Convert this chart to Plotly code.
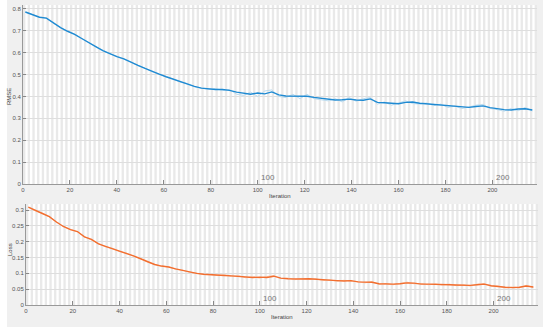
import plotly.graph_objects as go

# ---------------- data ----------------
iterations = [1, 4, 7, 10, 13, 16, 19, 22, 25, 28, 31, 34, 37, 40, 43, 46, 49, 52, 55, 58,
              61, 64, 67, 70, 73, 76, 79, 82, 85, 88, 91, 94, 97, 100, 103, 106, 109, 112, 115, 118,
              121, 124, 127, 130, 133, 136, 139, 142, 145, 148, 151, 154, 157, 160, 163, 166, 169, 172, 175, 178,
              181, 184, 187, 190, 193, 196, 199, 202, 205, 208, 211, 214, 217]

rmse_smooth = [0.786, 0.775, 0.762, 0.758, 0.735, 0.715, 0.698, 0.684, 0.665, 0.645,
               0.628, 0.610, 0.596, 0.582, 0.572, 0.556, 0.542, 0.528, 0.514, 0.502,
               0.490, 0.479, 0.467, 0.458, 0.446, 0.438, 0.434, 0.432, 0.432, 0.428,
               0.420, 0.414, 0.410, 0.416, 0.412, 0.421, 0.407, 0.402, 0.401, 0.399,
               0.401, 0.396, 0.391, 0.386, 0.384, 0.385, 0.388, 0.384, 0.383, 0.389,
               0.373, 0.371, 0.369, 0.367, 0.373, 0.375, 0.369, 0.366, 0.363, 0.361,
               0.357, 0.353, 0.350, 0.350, 0.354, 0.357, 0.349, 0.344, 0.340, 0.338,
               0.343, 0.344, 0.338]

rmse_raw = [0.786, 0.774, 0.763, 0.757, 0.734, 0.716, 0.697, 0.685, 0.664, 0.646,
            0.627, 0.611, 0.595, 0.583, 0.571, 0.557, 0.541, 0.529, 0.513, 0.503,
            0.489, 0.480, 0.466, 0.459, 0.445, 0.439, 0.433, 0.436, 0.428, 0.432,
            0.410, 0.405, 0.420, 0.400, 0.425, 0.430, 0.400, 0.395, 0.410, 0.390,
            0.410, 0.390, 0.385, 0.380, 0.390, 0.375, 0.395, 0.378, 0.390, 0.395,
            0.365, 0.375, 0.360, 0.370, 0.380, 0.368, 0.365, 0.370, 0.358, 0.365,
            0.350, 0.356, 0.345, 0.352, 0.360, 0.364, 0.345, 0.340, 0.333, 0.345,
            0.335, 0.350, 0.334]

loss_smooth = [0.309, 0.298, 0.289, 0.279, 0.262, 0.248, 0.238, 0.232, 0.215, 0.207,
               0.193, 0.185, 0.178, 0.170, 0.163, 0.155, 0.146, 0.136, 0.128, 0.123,
               0.120, 0.114, 0.109, 0.104, 0.100, 0.097, 0.095, 0.094, 0.093, 0.092,
               0.090, 0.088, 0.087, 0.088, 0.087, 0.091, 0.085, 0.083, 0.082, 0.082,
               0.083, 0.081, 0.079, 0.077, 0.077, 0.076, 0.077, 0.073, 0.072, 0.072,
               0.067, 0.066, 0.066, 0.067, 0.070, 0.069, 0.066, 0.066, 0.066, 0.065,
               0.064, 0.063, 0.062, 0.062, 0.064, 0.066, 0.061, 0.058, 0.056, 0.055,
               0.056, 0.060, 0.057]

loss_raw = [0.309, 0.297, 0.290, 0.278, 0.263, 0.247, 0.239, 0.231, 0.216, 0.206,
            0.194, 0.184, 0.179, 0.169, 0.164, 0.154, 0.147, 0.135, 0.129, 0.122,
            0.121, 0.113, 0.110, 0.103, 0.101, 0.096, 0.096, 0.093, 0.095, 0.090,
            0.092, 0.086, 0.089, 0.085, 0.090, 0.093, 0.083, 0.085, 0.080, 0.084,
            0.081, 0.083, 0.077, 0.079, 0.075, 0.078, 0.075, 0.074, 0.070, 0.074,
            0.065, 0.068, 0.064, 0.069, 0.072, 0.067, 0.068, 0.064, 0.067, 0.063,
            0.066, 0.061, 0.064, 0.060, 0.066, 0.068, 0.059, 0.060, 0.054, 0.057,
            0.054, 0.062, 0.055]

rmse_ticks = [0, 0.1, 0.2, 0.3, 0.4, 0.5, 0.6, 0.7, 0.8]
loss_ticks = [0, 0.05, 0.1, 0.15, 0.2, 0.25, 0.3]
iter_ticks = [0, 20, 40, 60, 80, 100, 120, 140, 160, 180, 200]
epoch_starts = list(range(0, 219, 2))
epoch_labels = [100, 200]

# ---------------- figure ----------------
W, H = 550, 332
FONT = "Liberation Sans, Arial, sans-serif"

fig = go.Figure()

fig.add_trace(go.Scatter(x=iterations, y=rmse_raw, mode="lines",
                         line=dict(color="#bcdcf0", width=1), xaxis="x", yaxis="y",
                         showlegend=False, hoverinfo="skip"))
fig.add_trace(go.Scatter(x=iterations, y=rmse_smooth, mode="lines",
                         line=dict(color="#1f8ad2", width=1.4), xaxis="x", yaxis="y",
                         showlegend=False))
fig.add_trace(go.Scatter(x=iterations, y=loss_raw, mode="lines",
                         line=dict(color="#f9c9ad", width=1), xaxis="x2", yaxis="y2",
                         showlegend=False, hoverinfo="skip"))
fig.add_trace(go.Scatter(x=iterations, y=loss_smooth, mode="lines",
                         line=dict(color="#f26e2f", width=1.4), xaxis="x2", yaxis="y2",
                         showlegend=False))

shapes = []
# epoch stripes
for ax_x, ax_y in (("x", "y domain"), ("x2", "y2 domain")):
    for s in epoch_starts:
        shapes.append(dict(type="rect", xref=ax_x, yref=ax_y, x0=s, x1=s + 1, y0=0, y1=1,
                           fillcolor="#e9e9e9", line=dict(width=0), layer="below"))
# white outer margins
shapes += [
    dict(type="rect", xref="paper", yref="paper", x0=0, x1=7 / W, y0=0, y1=1,
         fillcolor="white", line=dict(width=0), layer="below"),
    dict(type="rect", xref="paper", yref="paper", x0=543 / W, x1=1, y0=0, y1=1,
         fillcolor="white", line=dict(width=0), layer="below"),
    dict(type="rect", xref="paper", yref="paper", x0=0, x1=1, y0=0, y1=(H - 327) / H,
         fillcolor="white", line=dict(width=0), layer="below"),
]

tickfont = dict(family=FONT, size=6, color="#555555")
xcommon = dict(range=[0, 219], tickvals=iter_ticks, ticks="inside", ticklen=4,
               tickcolor="#888888", showline=True, linecolor="#999999", linewidth=1,
               showgrid=False, zeroline=False, tickfont=tickfont, fixedrange=True,
               automargin=False)
ycommon = dict(ticks="inside", ticklen=3, tickcolor="#888888", showline=True,
               linecolor="#999999", linewidth=1, showgrid=True, gridcolor="#dedede",
               gridwidth=1, zeroline=False, tickfont=tickfont, fixedrange=True,
               automargin=False)

annotations = [
    dict(text="RMSE", x=9, y=97, xref="paper", yref="paper", showarrow=False,
         xanchor="center", yanchor="middle",
         textangle=-90, font=dict(family=FONT, size=6, color="#444444")),
    dict(text="Loss", x=10, y=250, xref="paper", yref="paper", showarrow=False,
         xanchor="center", yanchor="middle",
         textangle=-90, font=dict(family=FONT, size=6, color="#444444")),
    dict(text="Iteration", x=280, y=196, xref="paper", yref="paper", showarrow=False,
         xanchor="center", yanchor="middle",
         font=dict(family=FONT, size=6, color="#444444")),
    dict(text="Iteration", x=282, y=317, xref="paper", yref="paper", showarrow=False,
         xanchor="center", yanchor="middle",
         font=dict(family=FONT, size=6, color="#444444")),
]
# convert pixel positions to paper fractions
for a in annotations:
    a["x"] = a["x"] / W
    a["y"] = 1 - a["y"] / H

for e in epoch_labels:
    annotations.append(dict(text=str(e), x=e + 0.6, y=0.032, xref="x", yref="y", xanchor="left",
                            yanchor="middle", showarrow=False,
                            font=dict(family=FONT, size=8, color="#777777")))
    annotations.append(dict(text=str(e), x=e + 0.6, y=0.019, xref="x2", yref="y2", xanchor="left",
                            yanchor="middle", showarrow=False,
                            font=dict(family=FONT, size=8, color="#777777")))

fig.update_layout(
    width=W, height=H,
    margin=dict(l=0, r=0, t=0, b=0, autoexpand=False),
    paper_bgcolor="#f0f0f0",
    plot_bgcolor="white",
    xaxis=dict(domain=[23 / W, 537 / W], anchor="y", **xcommon),
    yaxis=dict(domain=[1 - 184 / H, 1 - 5 / H], anchor="x", range=[0, 0.818],
               tickvals=rmse_ticks, **ycommon),
    xaxis2=dict(domain=[26 / W, 538 / W], anchor="y2", **xcommon),
    yaxis2=dict(domain=[1 - 305 / H, 1 - 204 / H], anchor="x2", range=[0, 0.319],
                tickvals=loss_ticks, **ycommon),
    shapes=shapes,
    annotations=annotations,
    showlegend=False,
)

fig.write_html(
    "out.html",
    config={"displayModeBar": False, "staticPlot": True},
    post_script="document.body.style.margin='0';document.body.style.overflow='hidden';",
)
